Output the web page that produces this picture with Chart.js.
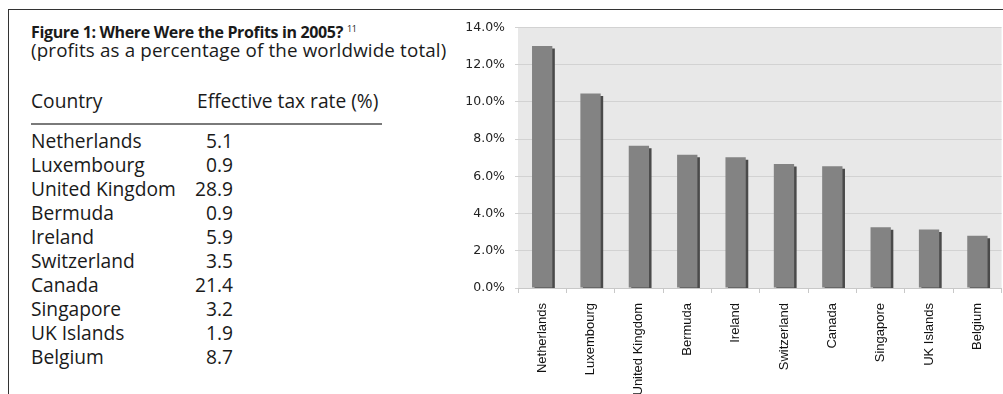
<!DOCTYPE html>
<html>
<head>
<meta charset="utf-8">
<script src="https://cdn.jsdelivr.net/npm/chart.js@4.4.1/dist/chart.umd.min.js"></script>
<style>
  html, body { margin: 0; padding: 0; background: #fff; }
  body { width: 1003px; height: 394px; position: relative; overflow: hidden; font-family: "Open Sans", sans-serif; color: #1a1a1a; }
  #frame { position: absolute; left: 8px; top: 9px; right: -2px; bottom: -2px; border-left: 1px solid #333; border-top: 1px solid #333; }
  #title { position: absolute; left: 31px; top: 19px; font-size: 16px; font-weight: 700; line-height: 20px; white-space: nowrap; letter-spacing: -0.35px; }
  #title sup { font-size: 9px; font-weight: 400; vertical-align: 6px; margin-left: 4px; }
  #subtitle { position: absolute; left: 31px; top: 39px; font-size: 18.8px; line-height: 22px; white-space: nowrap; letter-spacing: 0.15px; }
  .hdr { position: absolute; top: 89px; font-size: 19.2px; line-height: 24px; white-space: nowrap; }
  #rule { position: absolute; left: 31px; top: 123px; width: 351px; height: 0; border-top: 2px solid #7a7a7a; }
  #rows { position: absolute; left: 31px; top: 129px; width: 202px; }
  .row { position: relative; height: 24px; line-height: 24px; font-size: 19.2px; white-space: nowrap; }
  .row .v { position: absolute; right: 0; top: 0; }
  #wrap { position: absolute; left: 440px; top: 10px; width: 563px; height: 384px; }
</style>
</head>
<body>
<div id="frame"></div>
<div id="title">Figure 1: Where Were the Profits in 2005?<sup>11</sup></div>
<div id="subtitle">(profits as a percentage of the worldwide total)</div>
<div class="hdr" style="left:31px">Country</div>
<div class="hdr" style="left:197px">Effective tax rate (%)</div>
<div id="rule"></div>
<div id="rows"></div>
<div id="wrap"><canvas id="chart"></canvas></div>
<script>
const countries = ['Netherlands', 'Luxembourg', 'United Kingdom', 'Bermuda', 'Ireland', 'Switzerland', 'Canada', 'Singapore', 'UK Islands', 'Belgium'];
const taxRates = ['5.1', '0.9', '28.9', '0.9', '5.9', '3.5', '21.4', '3.2', '1.9', '8.7'];
const profitShare = [13.0, 10.45, 7.64, 7.16, 7.03, 6.66, 6.54, 3.27, 3.15, 2.81];

// table on the left
const rows = document.getElementById('rows');
countries.forEach((c, i) => {
    const r = document.createElement('div');
    r.className = 'row';
    r.innerHTML = '<span>' + c + '</span><span class="v">' + taxRates[i] + '</span>';
    rows.appendChild(r);
});

// grey plot background
const plotBg = {
    id: 'plotBg',
    beforeDraw(chart) {
        const a = chart.chartArea, c = chart.ctx;
        c.save();
        c.fillStyle = '#e8e8e8';
        c.fillRect(a.left, a.top, a.right - a.left, a.bottom - a.top);
        c.restore();
    }
};

// dark offset shadow on the bars
const barShadow = {
    id: 'barShadow',
    beforeDatasetDraw(chart) {
        const c = chart.ctx;
        c.save();
        c.shadowColor = '#4a4a4a';
        c.shadowOffsetX = 2.5;
        c.shadowOffsetY = 2.5;
        c.shadowBlur = 0;
    },
    afterDatasetDraw(chart) {
        chart.ctx.restore();
    }
};

const ctx = document.getElementById('chart').getContext('2d');
new Chart(ctx, {
    type: 'bar',
    data: {
        labels: countries,
        datasets: [{
            data: profitShare,
            backgroundColor: '#838383',
            borderWidth: 0,
            barPercentage: 0.42,
            categoryPercentage: 1,
            clip: 0
        }]
    },
    options: {
        responsive: true,
        maintainAspectRatio: false,
        animation: false,
        layout: { padding: { top: 14, right: 0, left: 0, bottom: 0 } },
        plugins: { legend: { display: false }, tooltip: { enabled: false } },
        scales: {
            x: {
                afterFit: s => { s.height = 106; },
                grid: { drawOnChartArea: false, drawTicks: true, tickLength: 5, color: '#c8c8c8', offset: true },
                border: { display: true, color: '#c8c8c8' },
                ticks: {
                    minRotation: 90, maxRotation: 90, autoSkip: false, padding: 10,
                    color: '#111', font: { family: 'Liberation Sans', size: 13 }
                }
            },
            y: {
                min: 0, max: 14,
                afterFit: s => { s.width = 78; },
                grid: { color: '#d2d2d2', tickLength: 3 },
                border: { display: false },
                ticks: {
                    stepSize: 2, padding: 10, color: '#222',
                    font: { family: 'DejaVu Sans', size: 12.5 },
                    callback: v => v.toFixed(1) + '%'
                }
            }
        }
    },
    plugins: [plotBg, barShadow]
});
</script>
</body>
</html>
